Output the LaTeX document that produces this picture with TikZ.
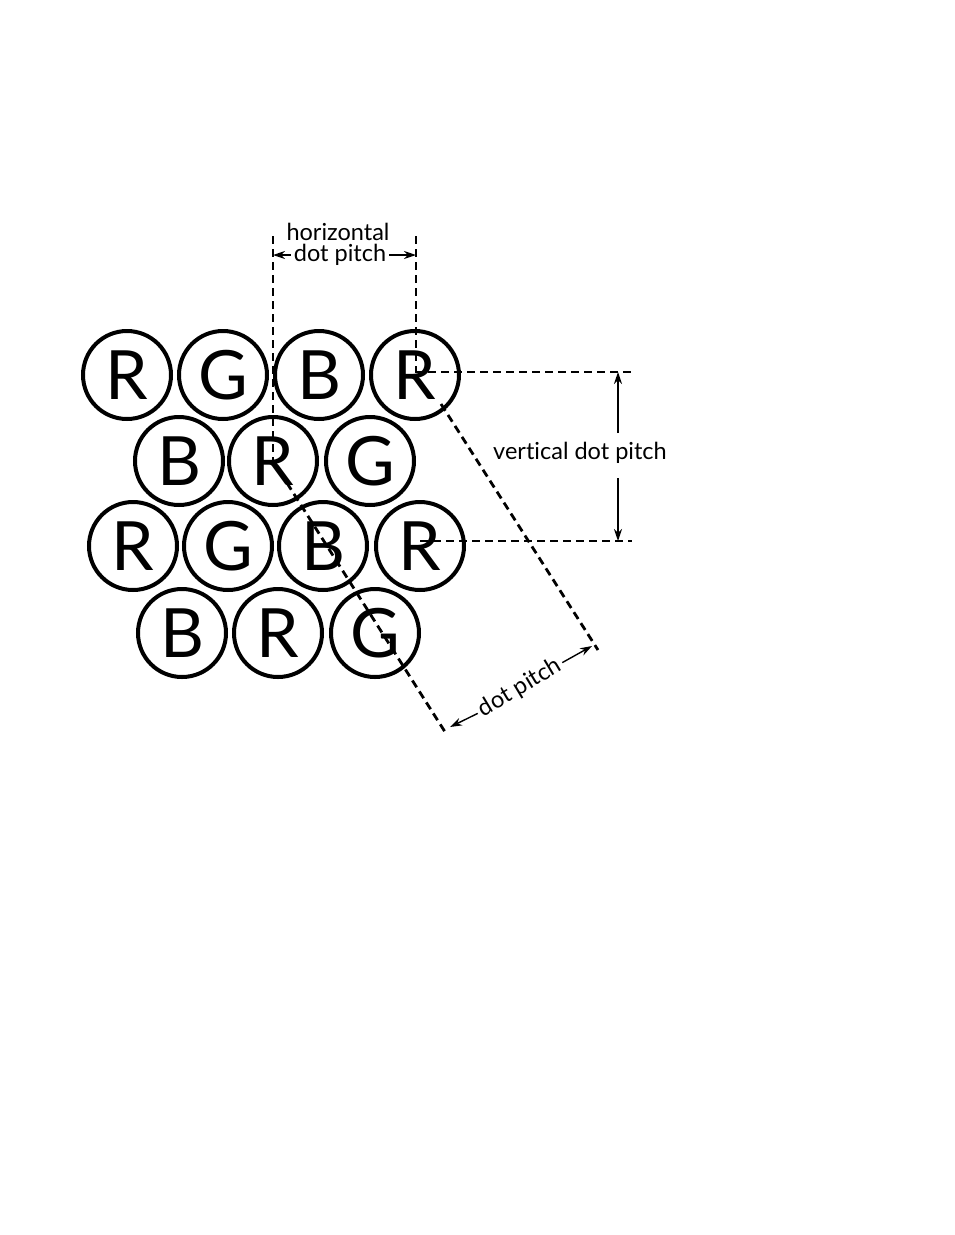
\documentclass[tikz,border=0pt]{standalone}
\usepackage{fontspec}
\setmainfont{Lato}[Ligatures={NoCommon,NoRequired,NoContextual}]
\usetikzlibrary{arrows.meta}
\begin{document}
\begin{tikzpicture}[x=1pt,y=-1pt,
 dot/.style={circle,draw,line width=4pt,minimum size=88pt,inner sep=0pt,font=\fontsize{68}{68}\selectfont},
 dsh/.style={line width=2.8pt,dash pattern=on 8pt off 5pt},
 dim/.style={line width=1.4pt,-{Stealth[length=12pt,width=8pt]}},
 lbl/.style={font=\fontsize{23.5}{25}\selectfont,inner xsep=3pt,inner ysep=1pt}]
\useasboundingbox (0,0) rectangle (954,1235);
% row 1
\node[dot] (r11) at (127,375) {R};
\node[dot] (r12) at (223,375) {G};
\node[dot] (r13) at (319,375) {B};
\node[dot] (r14) at (415,375) {R};
% row 2
\node[dot] (r21) at (179,461) {B};
\node[dot] (r22) at (273,461) {R};
\node[dot] (r23) at (370,461) {G};
% row 3
\node[dot] (r31) at (133,546) {R};
\node[dot] (r32) at (228,546) {G};
\node[dot] (r33) at (323,546) {B};
\node[dot] (r34) at (420,546) {R};
% row 4
\node[dot] (r41) at (182,633) {B};
\node[dot] (r42) at (278,633) {R};
\node[dot] (r43) at (375,633) {G};
% horizontal dot pitch
\coordinate (hl) at (273,236);
\coordinate (hr) at (416,236);
\draw[dsh] (hl) -- (r22.center);
\draw[dsh] (hr) -- ([xshift=1pt,yshift=3pt]r14.center);
\node[lbl] (hz) at (338,232) {horizontal};
\node[lbl] (dp1) at (340,255) {dot pitch};
\coordinate (hla) at (273,255);
\coordinate (hra) at (416,255);
\draw[dim] (dp1.west) -- (hla);
\draw[dim] (dp1.east) -- (hra);
% vertical dot pitch
\coordinate (vt1) at (632,372);
\coordinate (vt2) at (632,541);
\draw[dsh] ([yshift=3pt]r14.center) -- (vt1);
\draw[dsh] ([yshift=5pt]r34.center) -- (vt2);
\node[lbl] (vt) at (580,453) {vertical dot pitch};
\coordinate (va0) at (618,433);
\coordinate (va1) at (618,372);
\coordinate (vb0) at (618,478);
\coordinate (vb1) at (618,541);
\draw[dim] (va0) -- (va1);
\draw[dim] (vb0) -- (vb1);
% dot pitch
\coordinate (dA) at (447,735);
\coordinate (e1) at (441,404);
\coordinate (dB) at (598,650);
\draw[dsh] (r22.center) -- (dA);
\draw[dsh] (e1) -- (dB);
\node[lbl,rotate=31] (dp2) at (520,688) {dot pitch};
\coordinate (da1) at (450,727);
\coordinate (da2) at (592,646);
\draw[dim] (dp2.west) -- (da1);
\draw[dim] (dp2.east) -- (da2);
\end{tikzpicture}
\end{document}
